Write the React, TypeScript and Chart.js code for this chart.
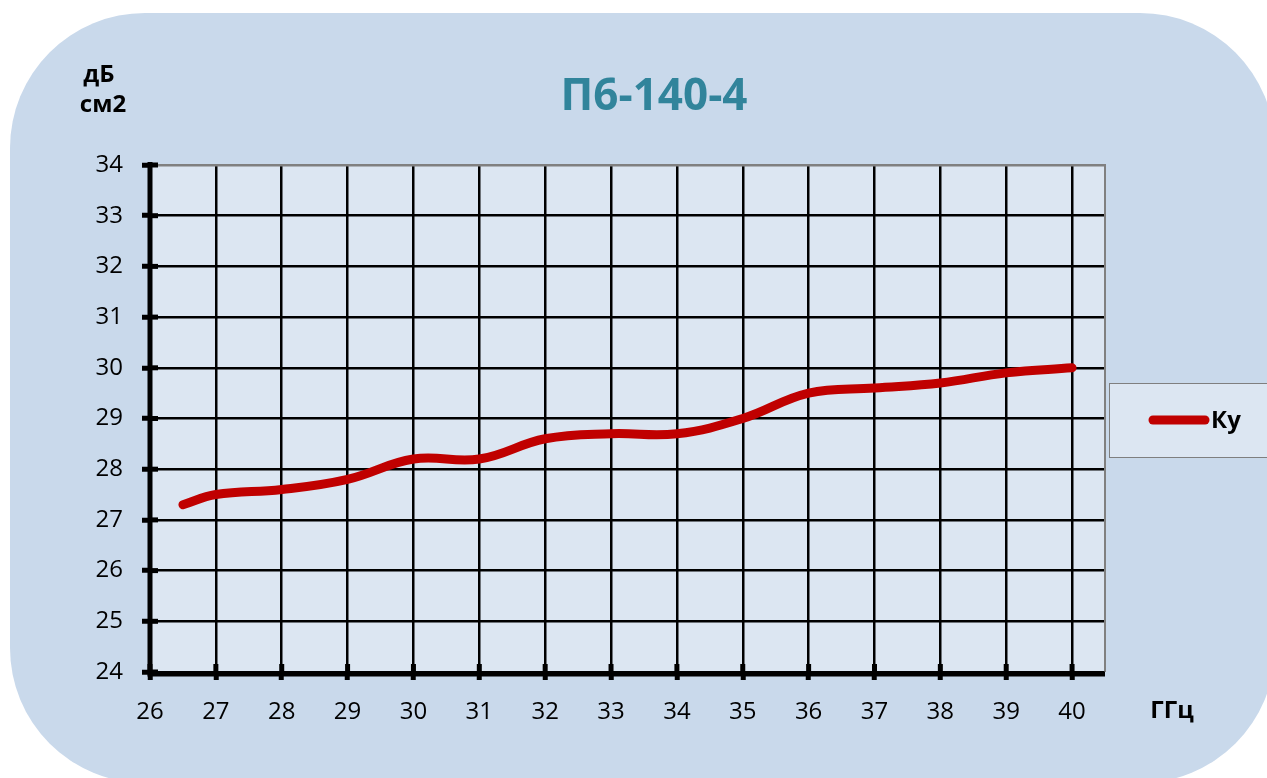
import React, { useEffect, useRef } from "react";
import { Chart, registerables } from "chart.js";

Chart.register(...registerables);

const chartTitle = "П6-140-4";
const seriesName = "Ку";
const yUnitLines = ["дБ", "см2"];
const xUnit = "ГГц";
const frequencies = [26.5, 27, 28, 29, 30, 31, 32, 33, 34, 35, 36, 37, 38, 39, 40];
const kuValues = [27.3, 27.5, 27.6, 27.8, 28.2, 28.2, 28.6, 28.7, 28.7, 29.0, 29.5, 29.6, 29.7, 29.9, 30.0];
const xMin = 26;
const xMax = 40.5;
const yMin = 24;
const yMax = 34;

const PANEL = "#c9d9eb";
const PLOT = "#dce6f2";
const RED = "#c00000";
const TEAL = "#31849b";
const FONT = "'Open Sans', 'Noto Sans', sans-serif";

const extrasPlugin = {
  id: "extras",
  beforeDraw(chart: any) {
    const { ctx, chartArea: a } = chart;
    ctx.save();
    ctx.fillStyle = PLOT;
    ctx.fillRect(a.left, a.top, a.right - a.left, a.bottom - a.top);
    ctx.restore();
  },
  beforeDatasetsDraw(chart: any) {
    const { ctx, chartArea: a } = chart;
    const xs = chart.scales.x;
    const ys = chart.scales.y;
    ctx.save();
    ctx.strokeStyle = "#808080";
    ctx.lineWidth = 2;
    ctx.beginPath();
    ctx.moveTo(a.left, a.top);
    ctx.lineTo(a.right, a.top);
    ctx.lineTo(a.right, a.bottom);
    ctx.stroke();
    ctx.strokeStyle = "#000";
    ctx.lineWidth = 5;
    ys.ticks.forEach((t: any) => {
      const y = ys.getPixelForValue(t.value);
      ctx.beginPath();
      ctx.moveTo(a.left, y);
      ctx.lineTo(a.left + 8, y);
      ctx.stroke();
    });
    xs.ticks.forEach((t: any) => {
      const x = xs.getPixelForValue(t.value);
      ctx.beginPath();
      ctx.moveTo(x, a.bottom);
      ctx.lineTo(x, a.bottom - 8);
      ctx.stroke();
    });
    ctx.lineWidth = 5;
    ctx.beginPath();
    ctx.moveTo(a.left, a.top - 3);
    ctx.lineTo(a.left, a.bottom + 2);
    ctx.lineTo(a.right, a.bottom + 2);
    ctx.stroke();
    ctx.restore();
  },
  afterDraw(chart: any) {
    const { ctx } = chart;
    ctx.save();
    ctx.textBaseline = "alphabetic";
    ctx.fillStyle = TEAL;
    ctx.font = `bold 44px ${FONT}`;
    ctx.textAlign = "center";
    ctx.fillText(chartTitle, 654, 110);
    ctx.fillStyle = "#000";
    ctx.font = `bold 24px ${FONT}`;
    ctx.fillText(yUnitLines[0], 99, 82);
    ctx.fillText(yUnitLines[1], 103, 112);
    ctx.fillText(xUnit, 1172, 718);
    ctx.fillStyle = PLOT;
    ctx.fillRect(1109.5, 383.5, 200, 74);
    ctx.strokeStyle = "#7f7f7f";
    ctx.lineWidth = 1;
    ctx.strokeRect(1109.5, 383.5, 200, 74);
    const ds = chart.data.datasets[0];
    ctx.strokeStyle = ds.borderColor;
    ctx.lineWidth = 9;
    ctx.lineCap = "round";
    ctx.beginPath();
    ctx.moveTo(1153, 420);
    ctx.lineTo(1205, 420);
    ctx.stroke();
    ctx.fillStyle = "#000";
    ctx.textAlign = "left";
    ctx.font = `bold 24px ${FONT}`;
    ctx.fillText(ds.label, 1211, 428);
    ctx.restore();
  },
};

export default function App() {
  const ref = useRef<HTMLCanvasElement | null>(null);
  useEffect(() => {
    if (!ref.current) return;
    const chart = new Chart(ref.current, {
      type: "line",
      data: {
        datasets: [
          {
            label: seriesName,
            data: frequencies.map((f, i) => ({ x: f, y: kuValues[i] })),
            borderColor: RED,
            backgroundColor: RED,
            borderWidth: 9,
            borderCapStyle: "round",
            borderJoinStyle: "round",
            pointRadius: 0,
            tension: 0.4,
            fill: false,
          },
        ],
      },
      options: {
        animation: false,
        responsive: false,
        maintainAspectRatio: false,
        layout: { padding: { left: 0, top: 165, right: 162, bottom: 46 } },
        plugins: {
          legend: { display: false },
          title: { display: false },
          tooltip: { enabled: false },
        },
        scales: {
          x: {
            type: "linear",
            min: xMin,
            max: xMax,
            afterFit: (s: any) => {
              s.height = 60;
            },
            ticks: {
              stepSize: 1,
              includeBounds: false,
              color: "#000",
              padding: 18,
              font: { family: FONT, size: 24 },
            },
            grid: {
              color: "#000",
              lineWidth: 2.5,
              tickLength: 8,
              tickWidth: 5,
              tickColor: "#000",
            },
            border: { display: false },
          },
          y: {
            min: yMin,
            max: yMax,
            afterFit: (s: any) => {
              s.width = 150;
            },
            ticks: {
              stepSize: 1,
              color: "#000",
              padding: 19,
              font: { family: FONT, size: 24 },
            },
            grid: {
              color: (c: any) => (c.tick && c.tick.value === yMax ? "#808080" : "#000"),
              lineWidth: 2.5,
              tickLength: 8,
              tickWidth: 5,
              tickColor: "#000",
            },
            border: { display: false },
          },
        },
      },
      plugins: [extrasPlugin],
    });
    return () => chart.destroy();
  }, []);

  return (
    <div
      style={{
        position: "fixed",
        left: 0,
        top: 0,
        width: 1267,
        height: 778,
        overflow: "hidden",
        background: "#fff",
      }}
    >
      <div
        style={{
          position: "absolute",
          left: 10,
          top: 13,
          width: 1265,
          height: 770,
          borderRadius: 135,
          background: PANEL,
        }}
      />
      <canvas
        ref={ref}
        width={1267}
        height={778}
        style={{ position: "absolute", left: 0, top: 0, width: 1267, height: 778 }}
      />
    </div>
  );
}
